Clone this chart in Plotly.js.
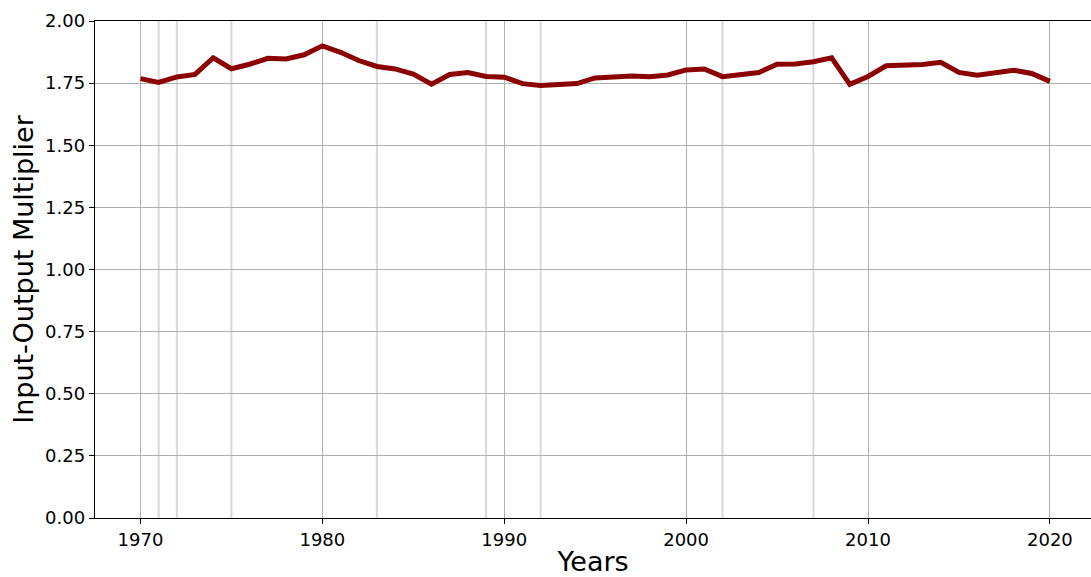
<!DOCTYPE html>
<html>
<head>
<meta charset="utf-8">
<script src="https://cdn.plot.ly/plotly-3.0.1.min.js"></script>
<style>html,body{margin:0;padding:0;background:#fff;}#chart{width:1091px;height:577px;}</style>
</head>
<body>
<div id="chart"></div>
<script>
const years = [1970,1971,1972,1973,1974,1975,1976,1977,1978,1979,1980,1981,1982,1983,1984,1985,1986,1987,1988,1989,1990,1991,1992,1993,1994,1995,1996,1997,1998,1999,2000,2001,2002,2003,2004,2005,2006,2007,2008,2009,2010,2011,2012,2013,2014,2015,2016,2017,2018,2019,2020];
const multiplier = [1.768,1.753,1.775,1.785,1.852,1.808,1.826,1.850,1.847,1.864,1.900,1.874,1.841,1.817,1.807,1.786,1.746,1.785,1.793,1.777,1.774,1.748,1.740,1.742,1.748,1.771,1.776,1.779,1.776,1.783,1.803,1.807,1.776,1.783,1.793,1.826,1.827,1.836,1.852,1.745,1.777,1.820,1.820,1.825,1.834,1.793,1.782,1.791,1.802,1.789,1.757];
const markerYears = [1971,1972,1975,1983,1989,1992,2002,2007];
const xTicks = [1970,1980,1990,2000,2010,2020];
const yTicks = [0,0.25,0.5,0.75,1.0,1.25,1.5,1.75,2.0];
const yTickText = ["0.00","0.25","0.50","0.75","1.00","1.25","1.50","1.75","2.00"];

const shapes = markerYears.map(y => ({
  type: 'line', xref: 'x', yref: 'paper', x0: y, x1: y, y0: 0, y1: 1,
  line: {color: 'rgba(190,190,190,0.6)', width: 2}, layer: 'below'
}));

const font = "DejaVu Sans, sans-serif";
Plotly.newPlot('chart', [{
  x: years, y: multiplier, type: 'scatter', mode: 'lines',
  line: {color: '#8B0000', width: 5}, hoverinfo: 'skip'
}], {
  width: 1091, height: 577,
  margin: {l: 95, r: 0, t: 21, b: 59},
  paper_bgcolor: '#fff', plot_bgcolor: '#fff',
  showlegend: false,
  font: {family: font, color: '#000'},
  shapes: shapes,
  xaxis: {
    range: [1967.5, 2022.26], tickvals: xTicks, ticktext: xTicks.map(String),
    ticks: 'outside', ticklen: 5, tickwidth: 1, tickcolor: '#000',
    showgrid: true, gridcolor: '#b0b0b0', gridwidth: 1,
    showline: true, linecolor: '#000', linewidth: 1.2, mirror: true,
    zeroline: false, tickfont: {size: 18, family: font},
    title: {text: 'Years', font: {size: 27, family: font}, standoff: 8}
  },
  yaxis: {
    range: [0, 2.0], tickvals: yTicks, ticktext: yTickText,
    ticks: 'outside', ticklen: 5, tickwidth: 1, tickcolor: '#000',
    showgrid: true, gridcolor: '#b0b0b0', gridwidth: 1,
    showline: true, linecolor: '#000', linewidth: 1.2,
    zeroline: false, tickfont: {size: 18, family: font},
    title: {text: 'Input-Output Multiplier', font: {size: 27, family: font}, standoff: 3}
  }
}, {staticPlot: true});
</script>
</body>
</html>
